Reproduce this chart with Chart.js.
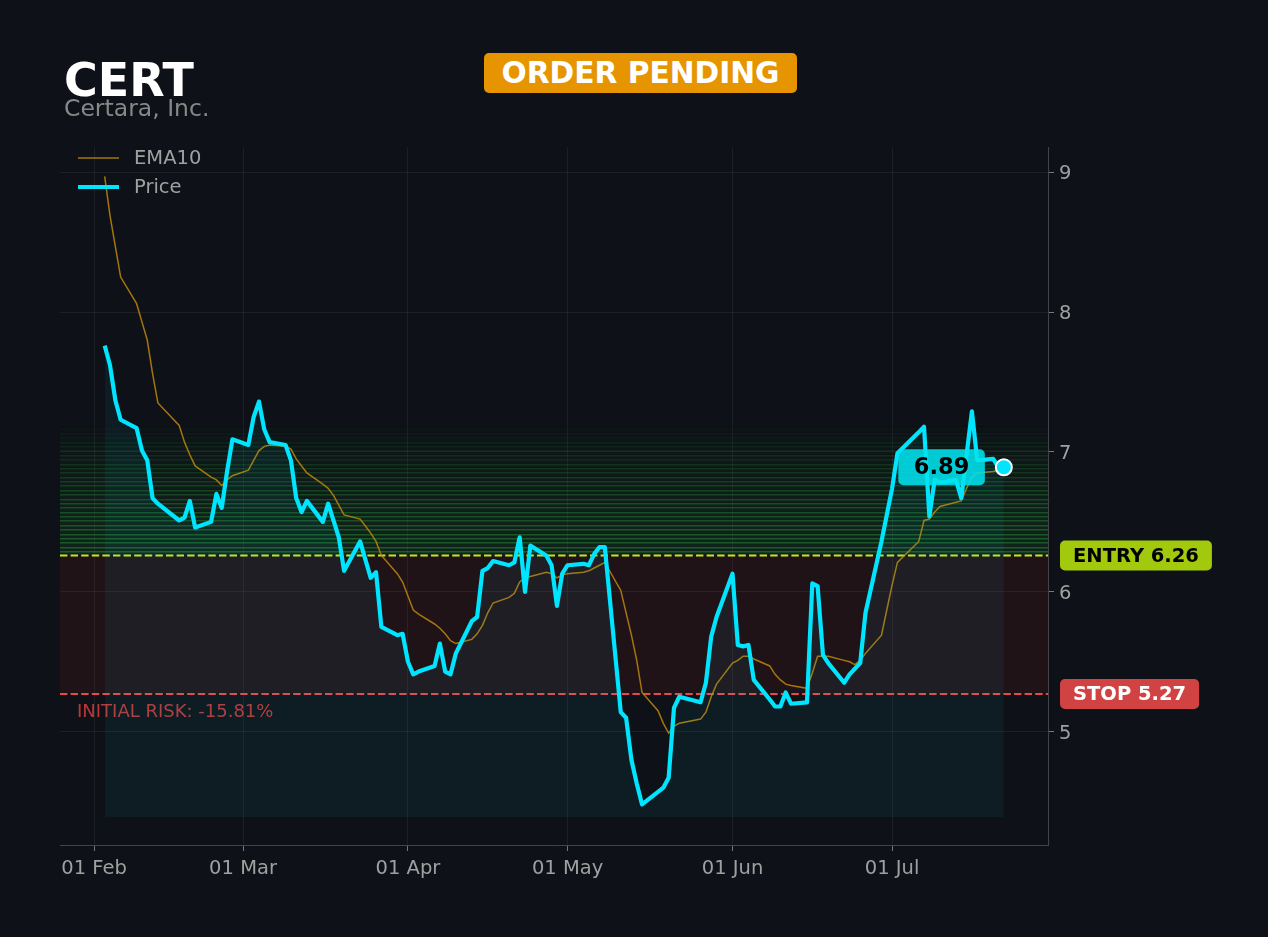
<!DOCTYPE html>
<html>
<head>
<meta charset="utf-8">
<title>CERT</title>
<script src="https://cdn.jsdelivr.net/npm/chart.js@4.4.1/dist/chart.umd.min.js"></script>
<style>
    body { margin: 0; background: #0e1117; overflow: hidden; font-family: "DejaVu Sans", sans-serif; }
    #wrap { position: relative; width: 1268px; height: 937px; }
    #chart { position: absolute; left: 0; top: 0; }
    #ticker { position: absolute; left: 64px; top: 57px; font-size: 46px; line-height: 1; font-weight: bold; color: #ffffff; }
    #company { position: absolute; left: 64px; top: 97px; font-size: 23.5px; line-height: 1; color: #888888; }
    #status { position: absolute; left: 484px; top: 53px; width: 313px; height: 40px; background: #e69500; border-radius: 5px;
              display: flex; align-items: center; justify-content: center; font-size: 29.7px; line-height: 1; font-weight: bold; color: #ffffff; }
</style>
</head>
<body>
<div id="wrap">
    <canvas id="chart" width="1268" height="937"></canvas>
    <div id="ticker"></div>
    <div id="company"></div>
    <div id="status"></div>
</div>
<script>
const ticker = 'CERT';
const company = 'Certara, Inc.';
const status = 'ORDER PENDING';

const dates = [
    '2025-02-03', '2025-02-04', '2025-02-05', '2025-02-06', '2025-02-09', '2025-02-10', '2025-02-11', '2025-02-12', '2025-02-13',
    '2025-02-17', '2025-02-18', '2025-02-19', '2025-02-20', '2025-02-23', '2025-02-24', '2025-02-25', '2025-02-26', '2025-02-27',
    '2025-03-02', '2025-03-03', '2025-03-04', '2025-03-05', '2025-03-06', '2025-03-09', '2025-03-10', '2025-03-11', '2025-03-12', '2025-03-13',
    '2025-03-16', '2025-03-17', '2025-03-18', '2025-03-19', '2025-03-20', '2025-03-23', '2025-03-24', '2025-03-25', '2025-03-26', '2025-03-27',
    '2025-03-30', '2025-03-31',
    '2025-04-01', '2025-04-02', '2025-04-03', '2025-04-06', '2025-04-07', '2025-04-08', '2025-04-09', '2025-04-10',
    '2025-04-13', '2025-04-14', '2025-04-15', '2025-04-16', '2025-04-17', '2025-04-20', '2025-04-21', '2025-04-22', '2025-04-23', '2025-04-24',
    '2025-04-27', '2025-04-28', '2025-04-29', '2025-04-30',
    '2025-05-01', '2025-05-04', '2025-05-05', '2025-05-06', '2025-05-07', '2025-05-08', '2025-05-11', '2025-05-12', '2025-05-13', '2025-05-14', '2025-05-15',
    '2025-05-18', '2025-05-19', '2025-05-20', '2025-05-21', '2025-05-22', '2025-05-26', '2025-05-27', '2025-05-28', '2025-05-29',
    '2025-06-01', '2025-06-02', '2025-06-03', '2025-06-04', '2025-06-05', '2025-06-08', '2025-06-09', '2025-06-10', '2025-06-11', '2025-06-12',
    '2025-06-15', '2025-06-16', '2025-06-17', '2025-06-18', '2025-06-19', '2025-06-22', '2025-06-23', '2025-06-24', '2025-06-25', '2025-06-26',
    '2025-06-29', '2025-06-30',
    '2025-07-01', '2025-07-02', '2025-07-06', '2025-07-07', '2025-07-08', '2025-07-09', '2025-07-10',
    '2025-07-13', '2025-07-14', '2025-07-15', '2025-07-16', '2025-07-17', '2025-07-20', '2025-07-21', '2025-07-22'
];

const price = [
    7.76, 7.62, 7.37, 7.23, 7.17, 7.01, 6.94, 6.67, 6.63, 6.51, 6.53, 6.65, 6.46, 6.50, 6.70, 6.60, 6.86, 7.09,
    7.05, 7.25, 7.36, 7.16, 7.07, 7.05, 6.94, 6.67, 6.57, 6.65, 6.50, 6.63, 6.51, 6.39, 6.15, 6.36, 6.23, 6.10, 6.14, 5.75, 5.69, 5.70,
    5.50, 5.41, 5.43, 5.47, 5.63, 5.43, 5.41, 5.56, 5.79, 5.82, 6.15, 6.17, 6.22, 6.19, 6.21, 6.39, 6.00, 6.33, 6.26, 6.19, 5.90, 6.13,
    6.19, 6.20, 6.19, 6.27, 6.32, 6.32, 5.14, 5.10, 4.80, 4.63, 4.48, 4.57, 4.60, 4.67, 5.17, 5.25, 5.21, 5.35, 5.68, 5.82,
    6.13, 5.62, 5.61, 5.62, 5.37, 5.23, 5.18, 5.18, 5.28, 5.20, 5.21, 6.06, 6.04, 5.55, 5.49, 5.35, 5.41, 5.45, 5.49, 5.85, 6.36, 6.55,
    6.74, 6.99, 7.14, 7.18, 6.54, 6.80, 6.78, 6.80, 6.67, 6.98, 7.29, 6.94, 6.95, 6.89, 6.89
];

const ema10 = [
    8.97, 8.69, 8.47, 8.25, 8.06, 7.93, 7.80, 7.56, 7.35, 7.19, 7.07, 6.98, 6.90, 6.82, 6.80, 6.76, 6.80, 6.83,
    6.87, 6.94, 7.01, 7.04, 7.05, 7.04, 7.02, 6.95, 6.90, 6.85, 6.77, 6.74, 6.69, 6.62, 6.55, 6.52, 6.47, 6.42, 6.36, 6.26, 6.13, 6.07,
    5.97, 5.87, 5.84, 5.77, 5.74, 5.70, 5.65, 5.63, 5.66, 5.70, 5.76, 5.85, 5.92, 5.96, 5.99, 6.07, 6.10, 6.11, 6.14, 6.13, 6.10, 6.12,
    6.13, 6.14, 6.15, 6.17, 6.19, 6.21, 6.01, 5.85, 5.69, 5.51, 5.28, 5.15, 5.06, 4.99, 5.04, 5.06, 5.09, 5.14, 5.25, 5.34,
    5.49, 5.51, 5.54, 5.54, 5.52, 5.47, 5.41, 5.37, 5.34, 5.33, 5.31, 5.42, 5.54, 5.54, 5.54, 5.51, 5.50, 5.48, 5.51, 5.56, 5.69, 5.87,
    6.05, 6.21, 6.36, 6.51, 6.52, 6.57, 6.61, 6.64, 6.65, 6.74, 6.82, 6.85, 6.86, 6.87, 6.87
];

const entryPrice = 6.26;
const stopPrice = 5.27;

const tickDates = ['2025-02-01', '2025-03-01', '2025-04-01', '2025-05-01', '2025-06-01', '2025-07-01'];
const tickLabels = ['01 Feb', '01 Mar', '01 Apr', '01 May', '01 Jun', '01 Jul'];
const yTicks = [5, 6, 7, 8, 9];

const FONT = '"DejaVu Sans", sans-serif';
const CYAN = '#00e5ff';
const EMA_COLOR = 'rgba(190,135,10,0.85)';
const ENTRY_COLOR = '#c8e61e';
const STOP_COLOR = '#e5484d';

document.getElementById('ticker').textContent = ticker;
document.getElementById('company').textContent = company;
document.getElementById('status').textContent = status;

const origin = Date.parse(tickDates[0]);
function dayOf(d) {
    return (Date.parse(d) - origin) / 864e5;
}

const xs = dates.map(dayOf);
const lastIdx = price.length - 1;
const fillBase = Math.min(...price) * 0.98;
const riskPct = (stopPrice - entryPrice) / entryPrice * 100;

function roundRect(ctx, x, y, w, h, r) {
    ctx.beginPath();
    ctx.moveTo(x + r, y);
    ctx.arcTo(x + w, y, x + w, y + h, r);
    ctx.arcTo(x + w, y + h, x, y + h, r);
    ctx.arcTo(x, y + h, x, y, r);
    ctx.arcTo(x, y, x + w, y, r);
    ctx.closePath();
}

function badge(ctx, text, x, yMid, bg, fg, size, padX, h, alignRight) {
    ctx.font = `bold ${size}px ${FONT}`;
    const w = ctx.measureText(text).width + padX * 2;
    const left = alignRight ? x - w : x;
    ctx.fillStyle = bg;
    roundRect(ctx, left, yMid - h / 2, w, h, 5);
    ctx.fill();
    ctx.fillStyle = fg;
    ctx.textAlign = 'center';
    ctx.textBaseline = 'middle';
    ctx.fillText(text, left + w / 2, yMid + 1);
}

const zonePlugin = {
    id: 'zones',
    beforeDatasetsDraw(chart) {
        const { ctx, chartArea: a, scales: { y } } = chart;
        ctx.save();
        ctx.beginPath();
        ctx.rect(a.left, a.top, a.right - a.left, a.bottom - a.top);
        ctx.clip();

        const yE = y.getPixelForValue(entryPrice);
        const yS = y.getPixelForValue(stopPrice);

        // risk zone between stop and entry
        ctx.fillStyle = 'rgba(220,40,40,0.09)';
        ctx.fillRect(a.left, yE, a.right - a.left, yS - yE);

        // target zone: fading green stripes above entry
        const top = entryPrice * 1.15;
        const n = 30;
        for (let i = 0; i < n; i++) {
            const p0 = y.getPixelForValue(entryPrice + (top - entryPrice) * i / n);
            const p1 = y.getPixelForValue(entryPrice + (top - entryPrice) * (i + 1) / n);
            const k = 1 - Math.pow(i / n, 1.3);
            ctx.fillStyle = `rgba(30,150,50,${0.14 * k})`;
            ctx.fillRect(a.left, p1, a.right - a.left, p0 - p1);
            ctx.fillStyle = `rgba(45,175,65,${0.42 * k})`;
            ctx.fillRect(a.left, Math.round(p1), a.right - a.left, 1.5);
        }

        ctx.lineWidth = 2;
        ctx.setLineDash([7.4, 3.2]);
        ctx.strokeStyle = ENTRY_COLOR;
        ctx.beginPath();
        ctx.moveTo(a.left, yE);
        ctx.lineTo(a.right, yE);
        ctx.stroke();
        ctx.strokeStyle = STOP_COLOR;
        ctx.beginPath();
        ctx.moveTo(a.left, yS);
        ctx.lineTo(a.right, yS);
        ctx.stroke();
        ctx.setLineDash([]);

        ctx.font = `18px ${FONT}`;
        ctx.fillStyle = 'rgba(205,60,60,0.9)';
        ctx.textAlign = 'left';
        ctx.textBaseline = 'middle';
        ctx.fillText(`INITIAL RISK: ${riskPct.toFixed(2)}%`, a.left + 17, yS + 18);
        ctx.restore();
    },
    afterDatasetsDraw(chart) {
        const { ctx, scales: { x, y } } = chart;
        const px = x.getPixelForValue(xs[lastIdx]);
        const py = y.getPixelForValue(price[lastIdx]);
        ctx.save();
        badge(ctx, price[lastIdx].toFixed(2), px - 19, py, 'rgba(0,226,238,0.88)', '#000000', 22.5, 15.5, 36, true);
        ctx.restore();
    },
    afterDraw(chart) {
        const { ctx, chartArea: a, scales: { y } } = chart;
        ctx.save();
        badge(ctx, `ENTRY ${entryPrice.toFixed(2)}`, a.right + 12, y.getPixelForValue(entryPrice), '#a3c90c', '#000000', 19.5, 13, 30, false);
        badge(ctx, `STOP ${stopPrice.toFixed(2)}`, a.right + 12, y.getPixelForValue(stopPrice), '#d14343', '#ffffff', 19.5, 13, 30, false);

        // legend, top-left inside the plot
        const rows = [chart.data.datasets[1], chart.data.datasets[0]];
        rows.forEach((ds, i) => {
            const ly = a.top + 11 + i * 29;
            ctx.strokeStyle = ds.borderColor;
            ctx.lineWidth = ds.borderWidth;
            ctx.beginPath();
            ctx.moveTo(a.left + 18, ly);
            ctx.lineTo(a.left + 59, ly);
            ctx.stroke();
            ctx.font = `19.5px ${FONT}`;
            ctx.fillStyle = '#a0a0a0';
            ctx.textAlign = 'left';
            ctx.textBaseline = 'middle';
            ctx.fillText(ds.label, a.left + 74, ly + 1);
        });
        ctx.restore();
    }
};

const ctx = document.getElementById('chart').getContext('2d');
const chart = new Chart(ctx, {
    type: 'line',
    data: {
        datasets: [{
            label: 'Price',
            data: price.map((v, i) => ({ x: xs[i], y: v })),
            borderColor: CYAN,
            borderWidth: 4.2,
            borderJoinStyle: 'round',
            tension: 0,
            fill: { target: { value: fillBase } },
            backgroundColor: 'rgba(0,229,255,0.055)',
            pointRadius: c => c.dataIndex === lastIdx ? 8 : 0,
            pointHoverRadius: 0,
            pointBackgroundColor: CYAN,
            pointBorderColor: '#ffffff',
            pointBorderWidth: 2,
            order: 1
        }, {
            label: 'EMA10',
            data: ema10.map((v, i) => ({ x: xs[i], y: v })),
            borderColor: EMA_COLOR,
            borderWidth: 1.5,
            tension: 0,
            fill: false,
            pointRadius: 0,
            order: 2
        }]
    },
    options: {
        responsive: false,
        animation: false,
        events: [],
        layout: { padding: { left: 60, top: 147, right: 0, bottom: 0 } },
        plugins: {
            legend: { display: false },
            tooltip: { enabled: false }
        },
        scales: {
            x: {
                type: 'linear',
                min: -6.4,
                max: 179.3,
                afterBuildTicks: s => { s.ticks = tickDates.map(d => ({ value: dayOf(d) })); },
                afterFit: s => { s.height = 92; },
                ticks: {
                    color: '#a0a0a0',
                    font: { family: FONT, size: 19.5 },
                    padding: 6,
                    maxRotation: 0,
                    callback: v => tickLabels[tickDates.findIndex(d => dayOf(d) === v)]
                },
                grid: { color: 'rgba(255,255,255,0.06)', tickColor: '#777777', tickLength: 6 },
                border: { display: true, color: '#444444', width: 1 }
            },
            y: {
                position: 'right',
                min: 4.19,
                max: 9.18,
                afterBuildTicks: s => { s.ticks = yTicks.map(v => ({ value: v })); },
                afterFit: s => { s.width = 220; },
                ticks: {
                    color: '#a0a0a0',
                    font: { family: FONT, size: 19.5 },
                    padding: 5,
                    labelOffset: 2
                },
                grid: { color: 'rgba(255,255,255,0.06)', tickColor: '#777777', tickLength: 6 },
                border: { display: true, color: '#444444', width: 1 }
            }
        }
    },
    plugins: [zonePlugin]
});
</script>
</body>
</html>
